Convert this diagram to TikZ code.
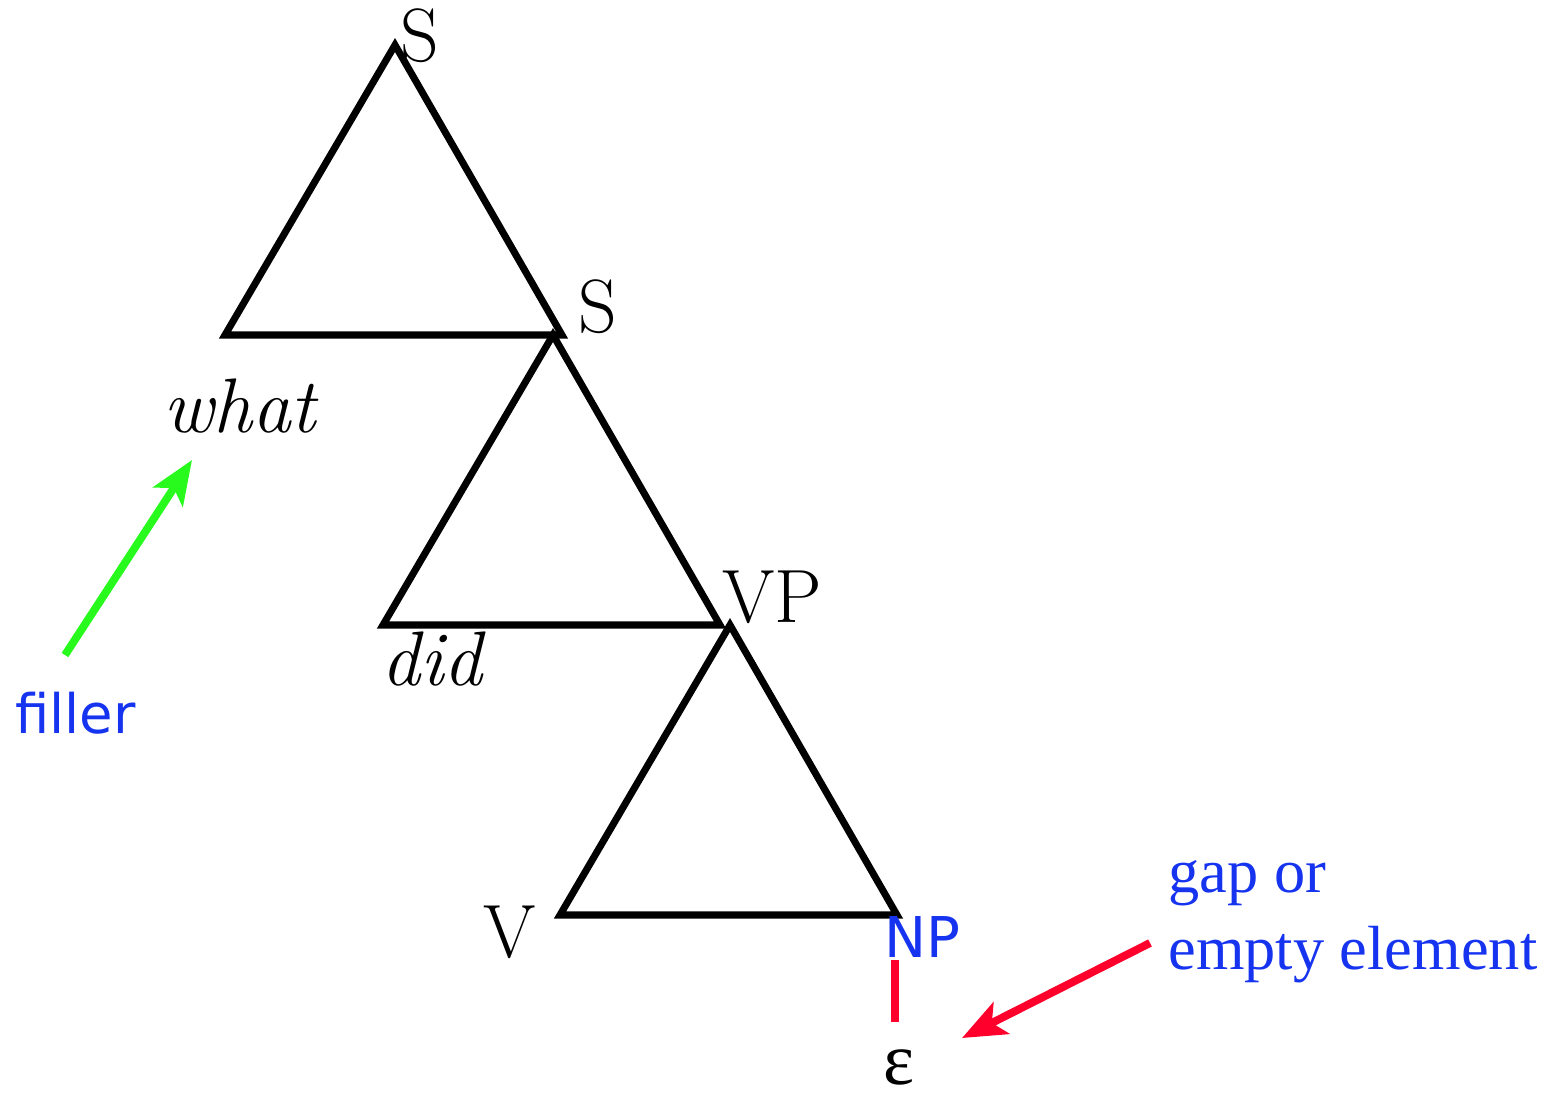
\documentclass[tikz,border=0pt]{standalone}
\usepackage{fontspec}
\usetikzlibrary{arrows.meta}
\newfontfamily\tagsans{DejaVu Sans}
\newfontfamily\notefont{Liberation Serif}
\definecolor{noteblue}{RGB}{22,52,240}
\definecolor{fillgreen}{RGB}{40,250,30}
\definecolor{gapred}{RGB}{255,0,45}
\tikzset{
  cat/.style={inner sep=0pt,anchor=base west,font=\fontsize{43}{46}\selectfont},
  word/.style={inner sep=0pt,anchor=base west,font=\fontsize{44}{46}\selectfont\itshape},
  note/.style={inner sep=0pt,anchor=base west,text=noteblue},
  tri/.style={line width=4pt,line join=miter}
}
\begin{document}
\begin{tikzpicture}[x=0.02cm,y=-0.02cm,line cap=butt,>={Stealth[length=25pt,width=20pt,inset=6pt]}]
	\useasboundingbox (0,0) rectangle (1556,1095);
	% the three subtrees
	\foreach \ax/\ay in {395/45,553/335,730/625}
		\draw[tri] (\ax,\ay)--++(-170,290)--++(337,0)--cycle;
	% categories
	\node[cat] (s1) at (400,62) {S};
	\node[cat] (s2) at (578,332) {S};
	\node[cat] (vp) at (722,622) {VP};
	\node[cat] (v) at (483,957) {V};
	\node[note,font=\tagsans\fontsize{32}{36}\selectfont] (np) at (884,957) {NP};
	\node[cat,font=\notefont\fontsize{42}{46}\selectfont] (eps) at (883,1084) {ε};
	% words
	\node[word] (what) at (163,432) {what};
	\node[word] (did) at (381,685) {did};
	% notes
	\node[note,font=\tagsans\fontsize{31}{36}\selectfont] (filler) at (15,733) {filler};
	\node[note,font=\notefont\fontsize{35.5}{44}\selectfont,align=left,anchor=north west] (gap) at (1168,860) {gap or\\empty element};
	\coordinate (fillertail) at (65,655);
	\coordinate (fillertip) at (192,460);
	\coordinate (gaptail) at (1150,943);
	\coordinate (gaptip) at (962,1038);
	\draw[gapred,line width=5pt] (895,960)--(895,1022);
	\draw[->,fillgreen,line width=4.5pt] (fillertail)--(fillertip);
	\draw[->,gapred,line width=4.5pt] (gaptail)--(gaptip);
\end{tikzpicture}
\end{document}
